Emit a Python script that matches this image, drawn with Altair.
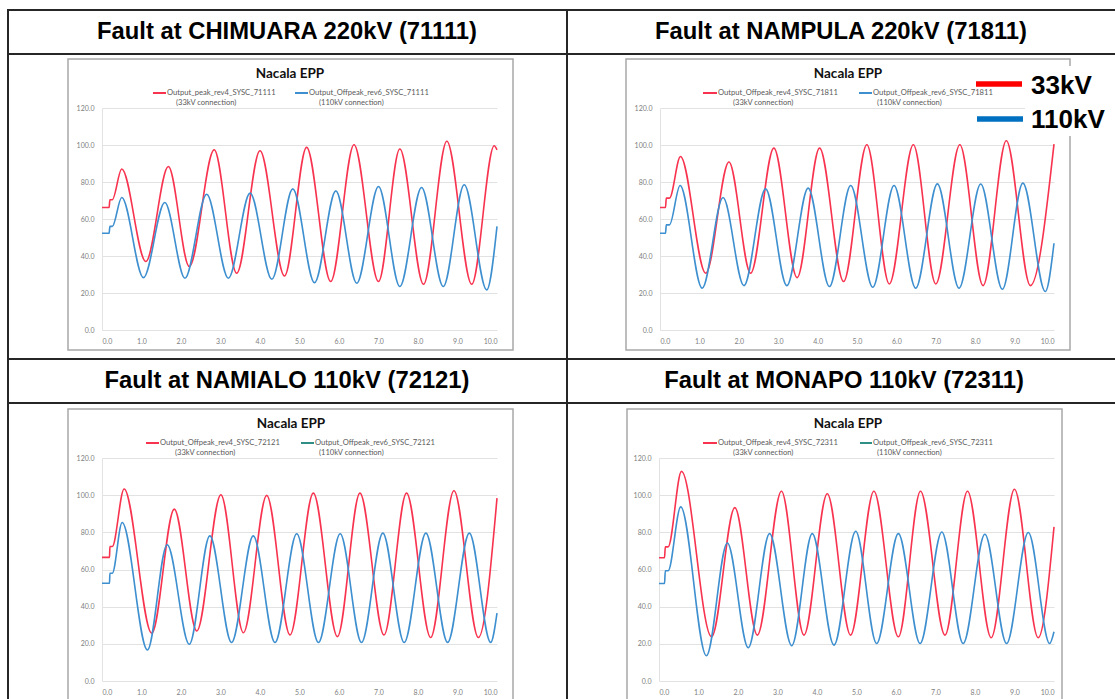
import altair as alt
import pandas as pd

# ---------------- data ----------------
HEADERS = ["Fault at CHIMUARA 220kV (71111)", "Fault at NAMPULA 220kV (71811)",
           "Fault at NAMIALO 110kV (72121)", "Fault at MONAPO 110kV (72311)"]
CHART_TITLE = "Nacala EPP"
LEG_RED = ["Output_peak_rev4_SYSC_71111", "Output_Offpeak_rev4_SYSC_71811",
           "Output_Offpeak_rev4_SYSC_72121", "Output_Offpeak_rev4_SYSC_72311"]
LEG_BLUE = ["Output_Offpeak_rev6_SYSC_71111", "Output_Offpeak_rev6_SYSC_71811",
            "Output_Offpeak_rev6_SYSC_72121", "Output_Offpeak_rev6_SYSC_72311"]
SUB_RED = "(33kV connection)"
SUB_BLUE = "(110kV connection)"
SERIES = ["33kV", "110kV"]
X_TICKS = [0, 1, 2, 3, 4, 5, 6, 7, 8, 9, 10]
Y_TICKS = [0, 20, 40, 60, 80, 100, 120]

P1_RED_T = [0, 0.18, 0.20, 0.26, 0.50, 1.11, 1.68, 2.21, 2.84, 3.41, 4.00, 4.62, 5.18, 5.79, 6.38, 7.00, 7.54, 8.14, 8.73, 9.36, 9.93, 10.0]
P1_RED_V = [66.2, 66.2, 70.4, 70.4, 87.0, 37.0, 88.4, 34.3, 97.4, 30.7, 96.9, 29.2, 98.7, 26.2, 100.1, 26.2, 97.8, 24.7, 102.0, 24.7, 99.6, 97.4]
P1_BLUE_T = [0, 0.18, 0.20, 0.26, 0.50, 1.05, 1.59, 2.10, 2.65, 3.20, 3.75, 4.30, 4.83, 5.38, 5.92, 6.45, 7.00, 7.54, 8.09, 8.64, 9.17, 9.74, 10.0]
P1_BLUE_V = [52.3, 52.3, 56.0, 56.0, 71.6, 28.3, 68.9, 28.0, 73.4, 28.0, 74.0, 27.4, 76.3, 25.6, 75.2, 25.3, 77.6, 23.5, 77.0, 23.5, 78.5, 21.7, 56.0]

P2_RED_T = [0, 0.14, 0.16, 0.24, 0.52, 1.16, 1.75, 2.30, 2.89, 3.48, 4.05, 4.66, 5.25, 5.82, 6.43, 7.00, 7.61, 8.20, 8.79, 9.40, 10.0]
P2_RED_V = [66.2, 66.2, 71.3, 71.3, 93.8, 30.7, 90.8, 30.7, 98.3, 28.3, 98.3, 26.2, 100.1, 24.9, 100.1, 24.9, 100.1, 24.0, 102.3, 24.0, 100.5]
P2_BLUE_T = [0, 0.14, 0.16, 0.24, 0.51, 1.07, 1.60, 2.13, 2.68, 3.22, 3.76, 4.30, 4.84, 5.40, 5.94, 6.49, 7.04, 7.59, 8.14, 8.69, 9.21, 9.78, 10.0]
P2_BLUE_V = [52.3, 52.3, 56.8, 56.8, 78.1, 22.6, 71.6, 24.0, 76.3, 24.0, 76.7, 23.5, 78.1, 23.1, 78.1, 22.6, 79.0, 22.6, 78.9, 22.0, 79.4, 20.8, 46.9]

P3_RED_T = [0, 0.19, 0.20, 0.26, 0.56, 1.26, 1.83, 2.40, 3.01, 3.58, 4.17, 4.76, 5.35, 5.96, 6.53, 7.14, 7.71, 8.32, 8.91, 9.53, 10.0]
P3_RED_V = [66.5, 66.5, 72.4, 72.4, 103.3, 25.7, 92.5, 26.9, 100.2, 26.0, 99.9, 24.8, 101.1, 23.9, 101.1, 24.8, 101.1, 23.4, 102.4, 23.4, 98.4]
P3_BLUE_T = [0, 0.19, 0.20, 0.26, 0.51, 1.15, 1.65, 2.21, 2.73, 3.28, 3.83, 4.38, 4.93, 5.48, 6.03, 6.57, 7.11, 7.65, 8.20, 8.75, 9.30, 9.84, 10.0]
P3_BLUE_V = [52.6, 52.6, 58.0, 58.0, 85.3, 16.7, 73.3, 19.8, 78.1, 20.7, 78.1, 20.7, 79.2, 20.7, 79.2, 20.7, 79.6, 20.7, 79.6, 20.8, 79.6, 20.8, 36.5]

P4_RED_T = [0, 0.14, 0.16, 0.23, 0.57, 1.33, 1.92, 2.49, 3.10, 3.67, 4.26, 4.85, 5.44, 6.06, 6.62, 7.24, 7.81, 8.41, 9.00, 9.60, 10.0]
P4_RED_V = [66.3, 66.3, 72.2, 72.2, 112.8, 23.8, 93.3, 24.7, 102.1, 24.7, 100.8, 24.7, 102.1, 23.8, 102.1, 24.7, 102.1, 23.3, 103.2, 23.3, 82.9]
P4_BLUE_T = [0, 0.14, 0.16, 0.23, 0.55, 1.20, 1.73, 2.26, 2.80, 3.36, 3.88, 4.43, 4.98, 5.51, 6.06, 6.61, 7.16, 7.70, 8.25, 8.80, 9.35, 9.89, 10.0]
P4_BLUE_V = [52.5, 52.5, 59.3, 59.3, 93.7, 13.6, 74.3, 17.9, 79.3, 19.0, 79.3, 19.3, 80.6, 20.2, 79.3, 20.2, 80.2, 20.2, 79.0, 20.2, 79.9, 20.2, 26.5]

PANEL_DATA = [
    (P1_RED_T, P1_RED_V, P1_BLUE_T, P1_BLUE_V),
    (P2_RED_T, P2_RED_V, P2_BLUE_T, P2_BLUE_V),
    (P3_RED_T, P3_RED_V, P3_BLUE_T, P3_BLUE_V),
    (P4_RED_T, P4_RED_V, P4_BLUE_T, P4_BLUE_V),
]

# ---------------- layout & style ----------------
W, H = 1115, 699
RED = "#f8334f"
BLUE = "#3d8fcf"
TEAL = "#2f8f86"
TABLE = "#262626"
FRAME = "#a8a8a8"
TXT = "#595959"
CF = "Lato"
HF = "Liberation Sans"

# panel geometry: frame box, plot box (x0, x1, y0 (value 0), y120), title, legend positions
PANELS = [
    dict(frame=(68, 59, 513, 350), x0=102, x1=497, y0=330, yt=108, title=(290, 74), ly=93,
         rsw=(153, 166), rtx=167, rsub=176, bsw=(295, 308), btx=309, bsub=319, bcol=BLUE),
    dict(frame=(626, 59, 1070, 350), x0=660, x1=1054, y0=330, yt=108, title=(848, 74), ly=93,
         rsw=(703, 717), rtx=718, rsub=733, bsw=(859, 872), btx=873, bsub=877, bcol=BLUE),
    dict(frame=(68, 409, 513, 720), x0=102, x1=497, y0=681, yt=458, title=(291, 424), ly=443,
         rsw=(146, 159), rtx=160, rsub=175, bsw=(301, 314), btx=315, bsub=319, bcol=TEAL),
    dict(frame=(627, 409, 1062, 720), x0=659, x1=1054, y0=681, yt=458, title=(848, 424), ly=443,
         rsw=(703, 717), rtx=718, rsub=733, bsw=(860, 872), btx=873, bsub=877, bcol=TEAL),
]

ONE = pd.DataFrame({"a": [0]})


def rule(x, x2, y, y2, color, width):
    return alt.Chart(ONE).mark_rule(color=color, strokeWidth=width).encode(
        x=alt.value(x), x2=alt.value(x2), y=alt.value(y), y2=alt.value(y2))


def label(s, x, y, size, font=CF, weight="normal", color=TXT, align="left", baseline="middle"):
    return alt.Chart(ONE).mark_text(text=s, font=font, fontSize=size, fontWeight=weight,
                                    color=color, align=align, baseline=baseline).encode(
        x=alt.value(x), y=alt.value(y))


layers = []

# table grid
for yy in [10, 54, 359, 403]:
    layers.append(rule(7, W, yy, yy, TABLE, 2))
layers.append(rule(8, 8, 10, H, TABLE, 2))
layers.append(rule(567, 567, 10, H, TABLE, 2))

# header texts
header_pos = [(287, 32), (841, 32), (287, 381), (844, 381)]
for txt, (hx, hy) in zip(HEADERS, header_pos):
    layers.append(label(txt, hx, hy, 23.8, font=HF, weight="bold", color="#000000", align="center"))

# panels
for i, p in enumerate(PANELS):
    fx, fy, fx2, fy2 = p["frame"]
    layers.append(alt.Chart(ONE).mark_rect(filled=False, stroke=FRAME, strokeWidth=1.5).encode(
        x=alt.value(fx), x2=alt.value(fx2), y=alt.value(fy), y2=alt.value(fy2)))
    layers.append(label(CHART_TITLE, p["title"][0], p["title"][1], 13.5, weight="bold",
                        color="#111111", align="center"))
    ly = p["ly"]
    layers.append(rule(p["rsw"][0], p["rsw"][1], ly, ly, RED, 2))
    layers.append(label(LEG_RED[i], p["rtx"], ly, 7.6))
    layers.append(label(SUB_RED, p["rsub"], ly + 10, 7.6))
    layers.append(rule(p["bsw"][0], p["bsw"][1], ly, ly, p["bcol"], 2))
    layers.append(label(LEG_BLUE[i], p["btx"], ly, 7.6))
    layers.append(label(SUB_BLUE, p["bsub"], ly + 10, 7.6))

    rt, rv, bt, bv = PANEL_DATA[i]
    df = pd.DataFrame({
        "t": list(rt) + list(bt),
        "v": list(rv) + list(bv),
        "s": [SERIES[0]] * len(rt) + [SERIES[1]] * len(bt),
    })
    line = alt.Chart(df).mark_line(interpolate="monotone", strokeWidth=1.6).encode(
        x=alt.X("t:Q",
                scale=alt.Scale(domain=[0, 10], range=[p["x0"], p["x1"]], nice=False, zero=False),
                axis=alt.Axis(orient="bottom", offset=p["y0"] - H, values=X_TICKS, format=".1f",
                              grid=False, ticks=False, domain=False, title=None,
                              labelFont=CF, labelFontSize=7, labelColor="#808080",
                              labelPadding=7)),
        y=alt.Y("v:Q",
                scale=alt.Scale(domain=[0, 120], range=[p["y0"], p["yt"]], nice=False, zero=False),
                axis=alt.Axis(orient="left", offset=-p["x0"], values=Y_TICKS, format=".1f",
                              grid=True, gridColor="#e2e2e2", gridWidth=1,
                              ticks=False, domain=True, domainColor="#e2e2e2", title=None,
                              labelFont=CF, labelFontSize=7, labelColor="#808080",
                              labelPadding=8)),
        color=alt.Color("s:N", scale=alt.Scale(domain=SERIES, range=[RED, BLUE]), legend=None),
        detail="s:N",
    )
    layers.append(line)

# big legend (top right)
layers.append(alt.Chart(ONE).mark_rect(fill="white").encode(
    x=alt.value(1025), x2=alt.value(W), y=alt.value(66), y2=alt.value(136)))
layers.append(rule(976, 1022, 84, 84, "#ff0000", 5.5))
layers.append(rule(977, 1023, 119, 119, "#0070c0", 5.5))
layers.append(label(SERIES[0], 1031, 94, 26, font=HF, weight="bold", color="#000000",
                    baseline="alphabetic"))
layers.append(label(SERIES[1], 1031, 128, 26, font=HF, weight="bold", color="#000000",
                    baseline="alphabetic"))

chart = alt.layer(*layers).resolve_scale(x="independent", y="independent").properties(
    width=W, height=H, autosize=alt.AutoSizeParams(type="none"), padding=0,
    background="white",
).configure_view(stroke=None)

chart.save("out.html", embed_options={"renderer": "svg", "actions": False})
